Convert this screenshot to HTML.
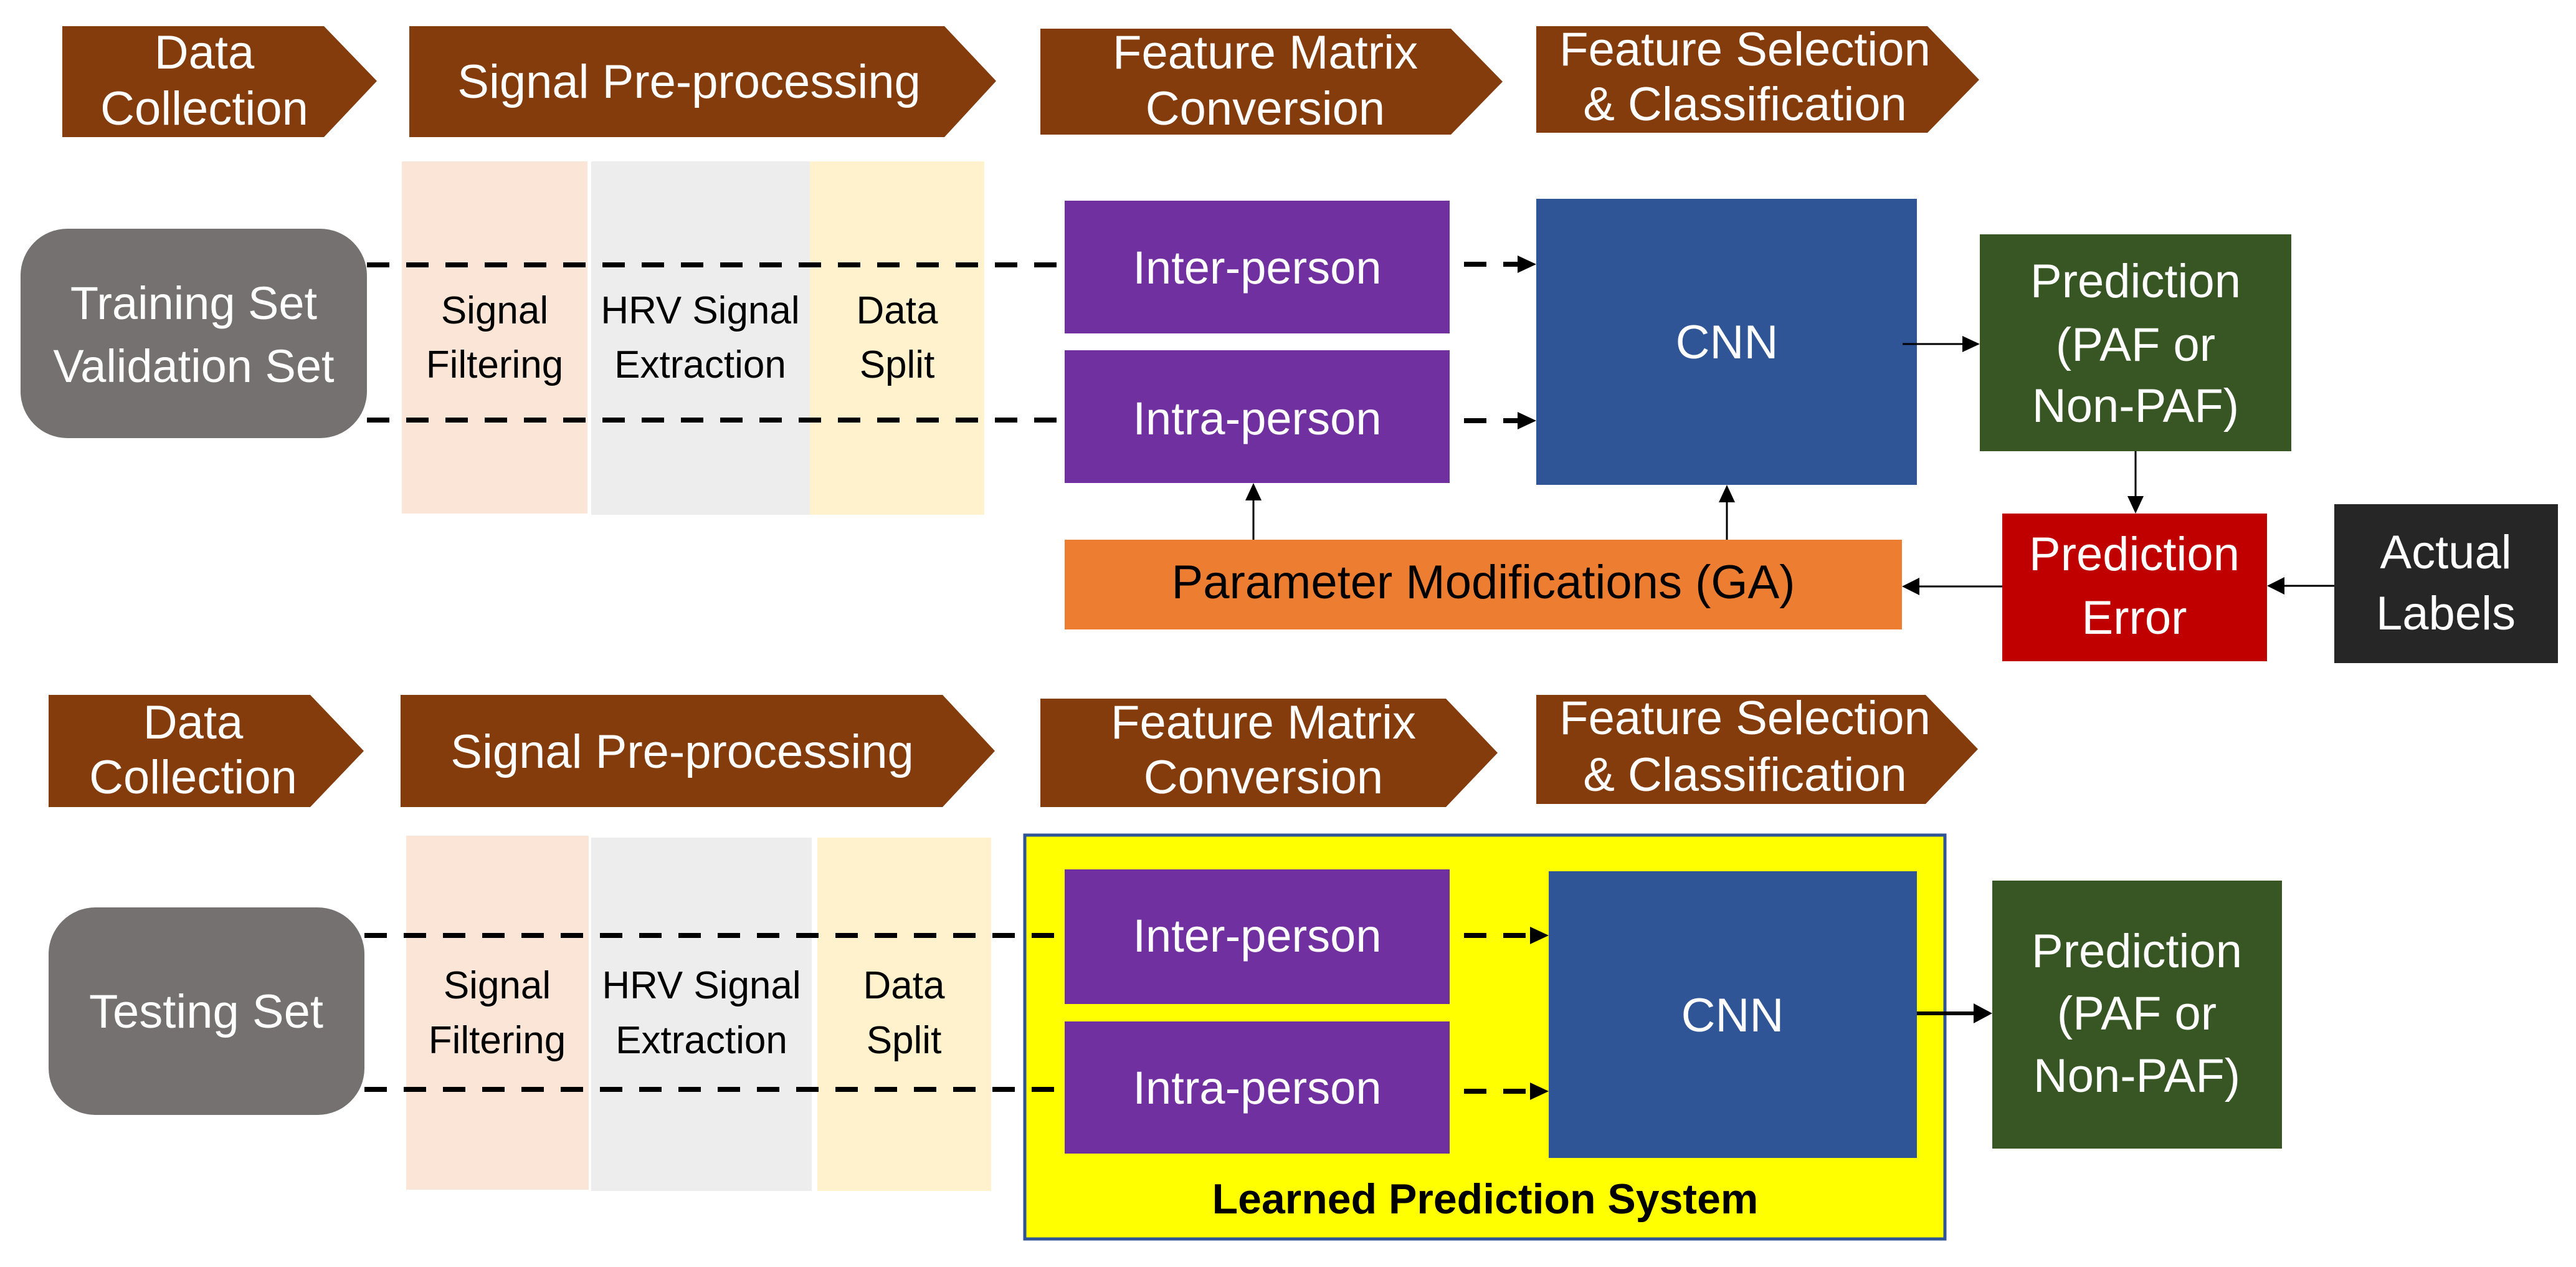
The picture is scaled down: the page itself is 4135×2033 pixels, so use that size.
<!DOCTYPE html>
<html><head><meta charset="utf-8"><style>
html,body{margin:0;padding:0;background:#fff;}
svg{display:block;}
text{font-family:"Liberation Sans Narrow","Liberation Sans",sans-serif;}
</style></head><body>
<svg width="4135" height="2033" viewBox="0 0 4135 2033" xmlns="http://www.w3.org/2000/svg">
<defs>
<marker id="ah" markerWidth="6" markerHeight="6" refX="5" refY="3" orient="auto" markerUnits="strokeWidth"><path d="M0,0 L6,3 L0,6 z" fill="#000"/></marker>
<marker id="ah2" markerWidth="14" markerHeight="14" refX="12" refY="7" orient="auto" markerUnits="userSpaceOnUse"><path d="M0,0 L14,7 L0,14 z" fill="#000"/></marker>
<marker id="ah3" markerWidth="26" markerHeight="26" refX="24" refY="13" orient="auto" markerUnits="userSpaceOnUse"><path d="M0,0 L26,13 L0,26 z" fill="#000"/></marker>
</defs>

<!-- TOP HEADERS -->
<g fill="#843C0C">
<polygon points="100,42 520,42 605,130 520,220 100,220"/>
<polygon points="657,42 1516,42 1599,130 1516,220 657,220"/>
<polygon points="1670,46 2329,46 2412,131 2329,216 1670,216"/>
<polygon points="2466,42 3094,42 3177,128 3094,213 2466,213"/>
</g>
<g fill="#fff" font-size="76" text-anchor="middle">
<text x="328" y="110">Data</text><text x="328" y="200">Collection</text>
<text x="1106" y="157">Signal Pre-processing</text>
<text x="2031" y="110">Feature Matrix</text><text x="2031" y="200">Conversion</text>
<text x="2801" y="105">Feature Selection</text><text x="2801" y="193">&amp; Classification</text>
</g>

<!-- TOP columns -->
<rect x="645" y="259" width="298" height="565" fill="#FBE5D6"/>
<rect x="949" y="259" width="351" height="567" fill="#EDEDED"/>
<rect x="1300" y="259" width="280" height="567" fill="#FFF2CC"/>
<g fill="#000" font-size="62" text-anchor="middle">
<text x="794" y="519">Signal</text><text x="794" y="606">Filtering</text>
<text x="1124" y="519">HRV Signal</text><text x="1124" y="606">Extraction</text>
<text x="1440" y="519">Data</text><text x="1440" y="606">Split</text>
</g>

<!-- Training box -->
<rect x="33" y="367" width="556" height="336" rx="75" fill="#767171"/>
<g fill="#fff" font-size="74" text-anchor="middle">
<text x="311" y="512">Training Set</text><text x="311" y="613">Validation Set</text>
</g>

<!-- dashed top -->
<g stroke="#000" stroke-width="8" stroke-dasharray="36,27" fill="none">
<line x1="589" y1="425" x2="1709" y2="425"/>
<line x1="589" y1="674" x2="1709" y2="674"/>
<line x1="2350" y1="424" x2="2440" y2="424"/>
<line x1="2350" y1="675" x2="2440" y2="675"/>
</g>
<path d="M2436,410 L2466,424 L2436,438 z" fill="#000"/>
<path d="M2436,661 L2466,675 L2436,689 z" fill="#000"/>

<rect x="1709" y="322" width="618" height="213" fill="#7030A0"/>
<rect x="1709" y="562" width="618" height="213" fill="#7030A0"/>
<g fill="#fff" font-size="74" text-anchor="middle">
<text x="2018" y="455">Inter-person</text><text x="2018" y="697">Intra-person</text>
</g>

<rect x="2466" y="319" width="611" height="459" fill="#2F5597"/>
<text x="2772" y="575" fill="#fff" font-size="76" text-anchor="middle">CNN</text>

<rect x="3178" y="376" width="500" height="348" fill="#375623"/>
<g fill="#fff" font-size="76" text-anchor="middle">
<text x="3428" y="477">Prediction</text><text x="3428" y="579">(PAF or</text><text x="3428" y="677">Non-PAF)</text>
</g>

<rect x="1709" y="866" width="1344" height="144" fill="#ED7D31"/>
<text x="2381" y="960" fill="#000" font-size="76" text-anchor="middle">Parameter Modifications (GA)</text>

<rect x="3214" y="824" width="425" height="237" fill="#C00000"/>
<g fill="#fff" font-size="76" text-anchor="middle">
<text x="3426" y="915">Prediction</text><text x="3426" y="1017">Error</text>
</g>
<rect x="3747" y="809" width="359" height="255" fill="#262626"/>
<g fill="#fff" font-size="76" text-anchor="middle">
<text x="3926" y="912">Actual</text><text x="3926" y="1010">Labels</text>
</g>

<!-- solid arrows top -->
<g stroke="#000" stroke-width="3" fill="none">
<line x1="3054" y1="552" x2="3155" y2="552"/>
<line x1="3428" y1="724" x2="3428" y2="800"/>
<line x1="3214" y1="941" x2="3078" y2="941"/>
<line x1="3747" y1="940" x2="3664" y2="940"/>
<line x1="2012" y1="866" x2="2012" y2="800"/>
<line x1="2772" y1="866" x2="2772" y2="803"/>
</g>
<g fill="#000">
<path d="M3150,539 L3178,552 L3150,565 z"/>
<path d="M3415,796 L3428,824 L3441,796 z"/>
<path d="M3081,927 L3053,941 L3081,955 z"/>
<path d="M3667,926 L3639,940 L3667,954 z"/>
<path d="M1999,803 L2012,775 L2025,803 z"/>
<path d="M2759,806 L2772,778 L2785,806 z"/>
</g>

<!-- BOTTOM HEADERS -->
<g fill="#843C0C">
<polygon points="78,1115 498,1115 584,1205 498,1295 78,1295"/>
<polygon points="643,1115 1513,1115 1597,1205 1513,1295 643,1295"/>
<polygon points="1670,1121 2321,1121 2404,1208 2321,1295 1670,1295"/>
<polygon points="2466,1115 3091,1115 3175,1202 3091,1290 2466,1290"/>
</g>
<g fill="#fff" font-size="76" text-anchor="middle">
<text x="310" y="1185">Data</text><text x="310" y="1273">Collection</text>
<text x="1095" y="1232">Signal Pre-processing</text>
<text x="2028" y="1185">Feature Matrix</text><text x="2028" y="1273">Conversion</text>
<text x="2801" y="1178">Feature Selection</text><text x="2801" y="1269">&amp; Classification</text>
</g>

<rect x="652" y="1341" width="293" height="568" fill="#FBE5D6"/>
<rect x="949" y="1344" width="354" height="567" fill="#EDEDED"/>
<rect x="1312" y="1344" width="279" height="567" fill="#FFF2CC"/>
<g fill="#000" font-size="62" text-anchor="middle">
<text x="798" y="1602">Signal</text><text x="798" y="1690">Filtering</text>
<text x="1126" y="1602">HRV Signal</text><text x="1126" y="1690">Extraction</text>
<text x="1451" y="1602">Data</text><text x="1451" y="1690">Split</text>
</g>

<rect x="78" y="1456" width="507" height="333" rx="75" fill="#767171"/>
<text x="331" y="1649" fill="#fff" font-size="76" text-anchor="middle">Testing Set</text>

<rect x="1645" y="1340" width="1477" height="648" fill="#FFFF00" stroke="#2F5597" stroke-width="5"/>

<g stroke="#000" stroke-width="8" stroke-dasharray="36,27" fill="none">
<line x1="585" y1="1501" x2="1709" y2="1501"/>
<line x1="585" y1="1748" x2="1709" y2="1748"/>
<line x1="2350" y1="1501" x2="2458" y2="1501"/>
<line x1="2350" y1="1751" x2="2458" y2="1751"/>
</g>
<path d="M2456,1487 L2486,1501 L2456,1515 z" fill="#000"/>
<path d="M2456,1737 L2486,1751 L2456,1765 z" fill="#000"/>

<rect x="1709" y="1395" width="618" height="216" fill="#7030A0"/>
<rect x="1709" y="1639" width="618" height="212" fill="#7030A0"/>
<g fill="#fff" font-size="74" text-anchor="middle">
<text x="2018" y="1527">Inter-person</text><text x="2018" y="1771">Intra-person</text>
</g>

<rect x="2486" y="1398" width="591" height="460" fill="#2F5597"/>
<text x="2781" y="1655" fill="#fff" font-size="76" text-anchor="middle">CNN</text>

<line x1="3077" y1="1626" x2="3172" y2="1626" stroke="#000" stroke-width="6"/>
<path d="M3168,1610 L3198,1626 L3168,1642 z" fill="#000"/>

<rect x="3198" y="1413" width="465" height="430" fill="#375623"/>
<g fill="#fff" font-size="76" text-anchor="middle">
<text x="3430" y="1552">Prediction</text><text x="3430" y="1652">(PAF or</text><text x="3430" y="1752">Non-PAF)</text>
</g>

<text x="2384" y="1947" fill="#000" font-size="68" font-weight="bold" text-anchor="middle">Learned Prediction System</text>
</svg>
</body></html>
